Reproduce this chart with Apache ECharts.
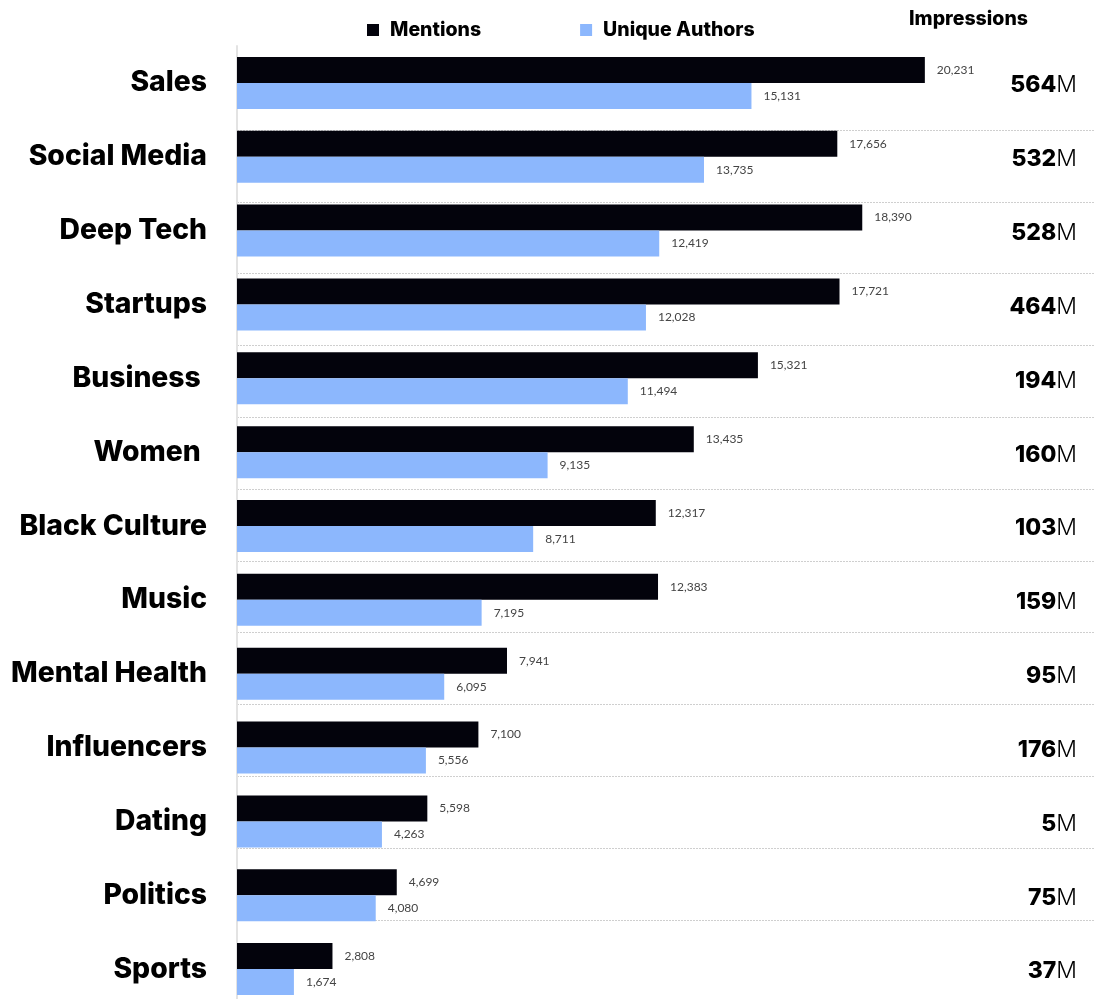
<!DOCTYPE html>
<html>
<head>
<meta charset="utf-8">
<script src="https://cdn.jsdelivr.net/npm/echarts@6/dist/echarts.min.js"></script>
<style>
html,body{margin:0;padding:0;background:#fff;}
#chart{width:1094px;height:999px;}
</style>
</head>
<body>
<div id="chart"></div>
<script>
var categories = ['Sales','Social Media','Deep Tech','Startups','Business ','Women ','Black Culture','Music','Mental Health','Influencers','Dating','Politics','Sports'];
var mentions = [20231,17656,18390,17721,15321,13435,12317,12383,7941,7100,5598,4699,2808];
var uniqueAuthors = [15131,13735,12419,12028,11494,9135,8711,7195,6095,5556,4263,4080,1674];
var impressions = [564,532,528,464,194,160,103,159,95,176,5,75,37];

var FONT = 'Inter';
var LIGHT = 'Lato';
var chart = echarts.init(document.getElementById('chart'));
function fmt(v){ return Number(v).toLocaleString('en-US'); }

chart.setOption({
  backgroundColor: '#ffffff',
  animation: false,
  title: {
    text: 'Impressions',
    left: 904, top: 4,
    textStyle: { fontFamily: FONT, fontSize: 19.5, fontWeight: 800, color: '#000' }
  },
  legend: {
    left: 362, top: 15,
    itemWidth: 12, itemHeight: 12, itemGap: 99,
    icon: 'rect',
    textStyle: { fontFamily: FONT, fontSize: 19.5, fontWeight: 800, color: '#000', padding: [0,0,0,6] },
    data: ['Mentions','Unique Authors']
  },
  grid: [
    { left: 237, right: 41, top: 46, height: 960, containLabel: false, outerBoundsMode: 'none' },
    { left: 237, right: 0, top: 130, height: 790, containLabel: false, outerBoundsMode: 'none' }
  ],
  xAxis: [
    { type: 'value', gridIndex: 0, min: 0, max: 24000, show: false },
    { type: 'value', gridIndex: 1, min: 0, max: 1, show: false }
  ],
  yAxis: [
    {
      type: 'category', gridIndex: 0, data: categories, inverse: true,
      axisLine: { show: true, lineStyle: { color: '#e3e3e3', width: 2 } },
      axisTick: { show: false },
      splitLine: { show: false },
      axisLabel: { margin: 30, fontFamily: FONT, fontSize: 28.3, fontWeight: 800, color: '#000' }
    },
    {
      type: 'category', gridIndex: 0, data: categories, inverse: true, position: 'right',
      axisLine: { show: false }, axisTick: { show: false },
      axisLabel: {
        margin: 24, align: 'right',
        formatter: function(v, i){ return '{b|' + impressions[i] + '}{m|M}'; },
        rich: {
          b: { fontFamily: FONT, fontSize: 23, fontWeight: 800, color: '#000', padding: [5,0,0,0] },
          m: { fontFamily: FONT, fontSize: 23, fontWeight: 300, color: '#000', padding: [5,0,0,0] }
        }
      }
    },
    {
      type: 'value', gridIndex: 1, min: 0, max: 11, interval: 1, inverse: true,
      axisLine: { show: false }, axisTick: { show: false }, axisLabel: { show: false },
      splitLine: { show: true, lineStyle: { color: '#cfcfcf', type: [2,1], width: 1 } }
    }
  ],
  series: [
    {
      name: 'Mentions', type: 'bar', xAxisIndex: 0, yAxisIndex: 0,
      data: mentions, barWidth: 26, barGap: '0%',
      itemStyle: { color: '#03030c' },
      label: { show: true, position: 'right', distance: 12, formatter: function(p){ return fmt(p.value); },
        fontFamily: LIGHT, fontSize: 12, color: '#444' }
    },
    {
      name: 'Unique Authors', type: 'bar', xAxisIndex: 0, yAxisIndex: 0,
      data: uniqueAuthors, barWidth: 26, barGap: '0%',
      itemStyle: { color: '#8cb7fd' },
      label: { show: true, position: 'right', distance: 12, formatter: function(p){ return fmt(p.value); },
        fontFamily: LIGHT, fontSize: 12, color: '#444' }
    }
  ]
});
</script>
</body>
</html>
